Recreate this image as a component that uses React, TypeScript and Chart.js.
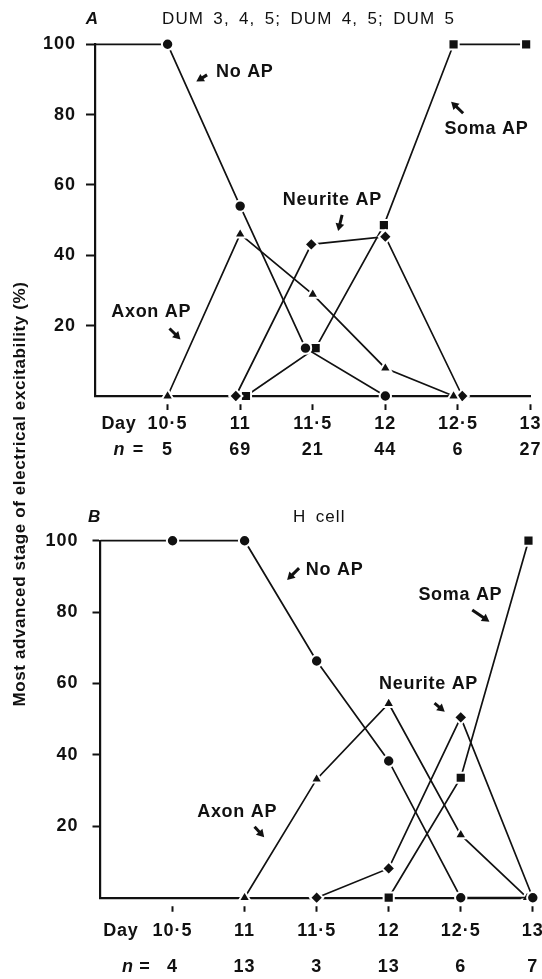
import React, { useEffect, useRef } from 'react';
import { Chart, registerables } from 'chart.js';

Chart.register(...registerables);

const FONT = '"Liberation Sans", Arial, Helvetica, sans-serif';
const INK = '#111111';
const WEIGHT = 'bold';

// ---------- shared axis data ----------
const dayTicks = [10.5, 11, 11.5, 12, 12.5, 13];
const dayLabels = ['10·5', '11', '11·5', '12', '12·5', '13'];
const yTicks = [20, 40, 60, 80, 100];
const yAxisTitle = 'Most advanced stage of electrical excitability (%)';
const seriesNames = ['No AP', 'Axon AP', 'Neurite AP', 'Soma AP'];

// ---------- panel A data ----------
const titleA = 'DUM 3, 4, 5; DUM 4, 5; DUM 5';
const nA = ['5', '69', '21', '44', '6', '27'];
const noApDaysA = [10, 10.5, 11, 11.45, 12];
const noApA = [100, 100, 54, 13.6, 0];
const axonDaysA = [10.5, 11, 11.5, 12, 12.47];
const axonA = [0, 46, 28.9, 7.9, 0];
const neuriteDaysA = [10.97, 11.49, 12, 12.53];
const neuriteA = [0, 43.1, 45.3, 0];
const somaDaysA = [11.04, 11.52, 11.99, 12.47, 12.97];
const somaA = [0, 13.6, 48.6, 100, 100];

// ---------- panel B data ----------
const titleB = 'H cell';
const nB = ['4', '13', '3', '13', '6', '7'];
const noApDaysB = [10, 10.5, 11, 11.5, 12, 12.5, 13];
const noApB = [100, 100, 100, 66.3, 38.3, 0, 0];
const axonDaysB = [11, 11.5, 12, 12.5, 12.96];
const axonB = [0, 33.2, 54.4, 17.6, 0];
const neuriteDaysB = [11.5, 12, 12.5, 13];
const neuriteB = [0, 8.2, 50.5, 0];
const somaDaysB = [12, 12.5, 12.97];
const somaB = [0, 33.6, 100];

// ---------- layout (positions in data units / pixels, not data) ----------
const MARKERS = ['circle', 'triangle', 'rectRot', 'rect'];
const MARKER_R: Record<string, number> = { circle: 5.7, triangle: 6.8, rectRot: 6.6, rect: 7.2 };

const layoutA = {
  padding: { top: 44.3, right: 11.5, bottom: 489, left: 0 },
  yAxisWidth: 95,
  xAxisHeight: 94,
  yTickLen: 9,
  yPad: 10,
  rowGap: 26,
  letter: { text: 'A', x: 9.979, y: 107.2 },
  title: { x: 11.471, y: 107.2 },
  labelPos: [[10.834, 92.2], [10.112, 24], [11.294, 55.7], [12.407, 75.8]],
  arrows: [
    [10.772, 91.3, 10.698, 89.4],
    [10.513, 19.2, 10.589, 16.1],
    [11.702, 51.5, 11.675, 46.9],
    [12.536, 80.4, 12.453, 83.7],
  ],
  dayPrefixX: 10.165,
  nPrefixX: [10.167, 10.298],
};

const layoutB = {
  padding: { top: 540.7, right: 5, bottom: 0, left: 0 },
  yAxisWidth: 100.5,
  xAxisHeight: 81.3,
  yTickLen: 8,
  yPad: 14,
  rowGap: 36,
  letter: { text: 'B', x: 9.955, y: 106.6 },
  title: { x: 11.518, y: 106.6 },
  labelPos: [[11.425, 91.8], [10.671, 24.1], [11.933, 59.8], [12.206, 84.8]],
  arrows: [
    [11.378, 92.3, 11.295, 89.0],
    [11.069, 19.9, 11.136, 16.9],
    [12.318, 54.5, 12.389, 52.1],
    [12.58, 80.6, 12.699, 77.3],
  ],
  dayPrefixX: 10.141,
  nPrefixX: [10.189, 10.308],
};

function drawArrow(ctx: CanvasRenderingContext2D, x1: number, y1: number, x2: number, y2: number) {
  const dx = x2 - x1;
  const dy = y2 - y1;
  const len = Math.hypot(dx, dy) || 1;
  const ux = dx / len;
  const uy = dy / len;
  const head = 7.5;
  const hw = 4.4;
  const bx = x2 - ux * head;
  const by = y2 - uy * head;
  ctx.lineWidth = 3;
  ctx.lineCap = 'butt';
  ctx.beginPath();
  ctx.moveTo(x1, y1);
  ctx.lineTo(bx + ux, by + uy);
  ctx.stroke();
  ctx.beginPath();
  ctx.moveTo(x2, y2);
  ctx.lineTo(bx - uy * hw, by + ux * hw);
  ctx.lineTo(bx + uy * hw, by - ux * hw);
  ctx.closePath();
  ctx.fill();
}

function buildConfig(
  title: string,
  nLabels: string[],
  series: { days: number[]; values: number[] }[],
  L: typeof layoutA,
  drawYTitle: boolean
): any {
  const datasets = series.map((s, k) => {
    const marker = MARKERS[k];
    return {
      label: seriesNames[k],
      data: s.days.map((d, i) => ({ x: d, y: s.values[i] })),
      borderColor: INK,
      borderWidth: 1.7,
      pointStyle: marker,
      pointRadius: s.days.map((d) => (d <= 10 ? 0 : MARKER_R[marker])),
      pointBackgroundColor: INK,
      pointBorderColor: '#ffffff',
      pointBorderWidth: 2,
      fill: false,
      tension: 0,
      clip: false,
    };
  });

  const annot = {
    id: 'annot',
    beforeDraw(chart: any) {
      (chart.ctx as any).letterSpacing = '1px';
    },
    afterDraw(chart: any) {
      const ctx = chart.ctx as CanvasRenderingContext2D & { letterSpacing: string; wordSpacing: string };
      const xs = chart.scales.x;
      const ys = chart.scales.y;
      const px = (v: number) => xs.getPixelForValue(v);
      const py = (v: number) => ys.getPixelForValue(v);
      ctx.save();
      ctx.fillStyle = INK;
      ctx.strokeStyle = INK;
      ctx.textBaseline = 'middle';

      // panel letter
      ctx.letterSpacing = '0px';
      ctx.font = `italic ${WEIGHT} 17px ${FONT}`;
      ctx.textAlign = 'center';
      ctx.fillText(L.letter.text, px(L.letter.x), py(L.letter.y));

      // title (lighter weight than the labels)
      ctx.font = `17px ${FONT}`;
      ctx.letterSpacing = '1.1px';
      ctx.wordSpacing = '3.5px';
      ctx.fillText(title, px(L.title.x), py(L.title.y));
      ctx.wordSpacing = '0px';

      // curve labels + arrows
      ctx.font = `${WEIGHT} 18px ${FONT}`;
      ctx.letterSpacing = '0.7px';
      ctx.textAlign = 'left';
      seriesNames.forEach((name, i) => {
        const [lx, ly] = L.labelPos[i];
        ctx.fillText(name, px(lx), py(ly));
        const [ax, ay, bx, by] = L.arrows[i];
        drawArrow(ctx, px(ax), py(ay), px(bx), py(by));
      });

      // row prefixes under x axis
      const tl = 14;
      const pad = 1;
      const row0 = xs.top + tl + pad + L.rowGap / 2;
      const row1 = row0 + L.rowGap;
      ctx.font = `${WEIGHT} 18px ${FONT}`;
      ctx.letterSpacing = '0.7px';
      ctx.textAlign = 'center';
      ctx.fillText('Day', px(L.dayPrefixX), row0);
      ctx.font = `italic ${WEIGHT} 18px ${FONT}`;
      ctx.fillText('n', px(L.nPrefixX[0]), row1);
      ctx.font = `${WEIGHT} 18px ${FONT}`;
      ctx.fillText('=', px(L.nPrefixX[1]), row1);

      if (drawYTitle) {
        ctx.save();
        ctx.translate(20, 494);
        ctx.rotate(-Math.PI / 2);
        ctx.font = `${WEIGHT} 17px ${FONT}`;
        ctx.letterSpacing = '0.6px';
        ctx.textAlign = 'center';
        ctx.fillText(yAxisTitle, 0, 0);
        ctx.restore();
      }
      ctx.restore();
    },
  };

  return {
    type: 'line',
    data: { datasets },
    plugins: [annot],
    options: {
      responsive: false,
      maintainAspectRatio: false,
      animation: false,
      devicePixelRatio: 1,
      events: [],
      layout: { padding: L.padding },
      plugins: {
        legend: { display: false },
        tooltip: { enabled: false },
        title: { display: false },
      },
      scales: {
        x: {
          type: 'linear',
          min: 10,
          max: 13,
          afterBuildTicks: (s: any) => {
            s.ticks = dayTicks.map((v) => ({ value: v }));
          },
          afterFit: (s: any) => {
            s.height = L.xAxisHeight;
            s.paddingLeft = 0;
            s.paddingRight = 0;
          },
          ticks: {
            autoSkip: false,
            maxRotation: 0,
            minRotation: 0,
            color: INK,
            padding: 1,
            font: { family: FONT, size: 18, weight: WEIGHT, lineHeight: L.rowGap / 18 },
            callback: (_v: any, i: number) => [dayLabels[i], nLabels[i]],
          },
          grid: {
            drawOnChartArea: false,
            drawTicks: true,
            tickLength: 14,
            tickWidth: 2,
            tickColor: INK,
            tickBorderDash: [0, 7, 7, 60],
          },
          border: { display: true, color: INK, width: 2.2 },
        },
        y: {
          type: 'linear',
          min: 0,
          max: 100,
          afterBuildTicks: (s: any) => {
            s.ticks = yTicks.map((v) => ({ value: v }));
          },
          afterFit: (s: any) => {
            s.width = L.yAxisWidth;
            s.paddingTop = 0;
            s.paddingBottom = 0;
          },
          ticks: {
            color: INK,
            padding: L.yPad,
            font: { family: FONT, size: 18, weight: WEIGHT },
            callback: (v: any) => String(v),
          },
          grid: {
            drawOnChartArea: false,
            drawTicks: true,
            tickLength: L.yTickLen,
            tickWidth: 2,
            tickColor: INK,
          },
          border: { display: true, color: INK, width: 2.2 },
        },
      },
    },
  };
}

export default function App() {
  const refA = useRef<HTMLCanvasElement>(null);
  const refB = useRef<HTMLCanvasElement>(null);

  useEffect(() => {
    document.body.style.margin = '0';
    const a = new Chart(
      refA.current as HTMLCanvasElement,
      buildConfig(
        titleA,
        nA,
        [
          { days: noApDaysA, values: noApA },
          { days: axonDaysA, values: axonA },
          { days: neuriteDaysA, values: neuriteA },
          { days: somaDaysA, values: somaA },
        ],
        layoutA,
        false
      )
    );
    const b = new Chart(
      refB.current as HTMLCanvasElement,
      buildConfig(
        titleB,
        nB,
        [
          { days: noApDaysB, values: noApB },
          { days: axonDaysB, values: axonB },
          { days: neuriteDaysB, values: neuriteB },
          { days: somaDaysB, values: somaB },
        ],
        layoutB,
        true
      )
    );
    return () => {
      a.destroy();
      b.destroy();
    };
  }, []);

  return (
    <div style={{ position: 'relative', width: 542, height: 979, background: '#ffffff', overflow: 'hidden' }}>
      <canvas ref={refA} width={542} height={979} style={{ position: 'absolute', left: 0, top: 0 }} />
      <canvas ref={refB} width={542} height={979} style={{ position: 'absolute', left: 0, top: 0 }} />
    </div>
  );
}
